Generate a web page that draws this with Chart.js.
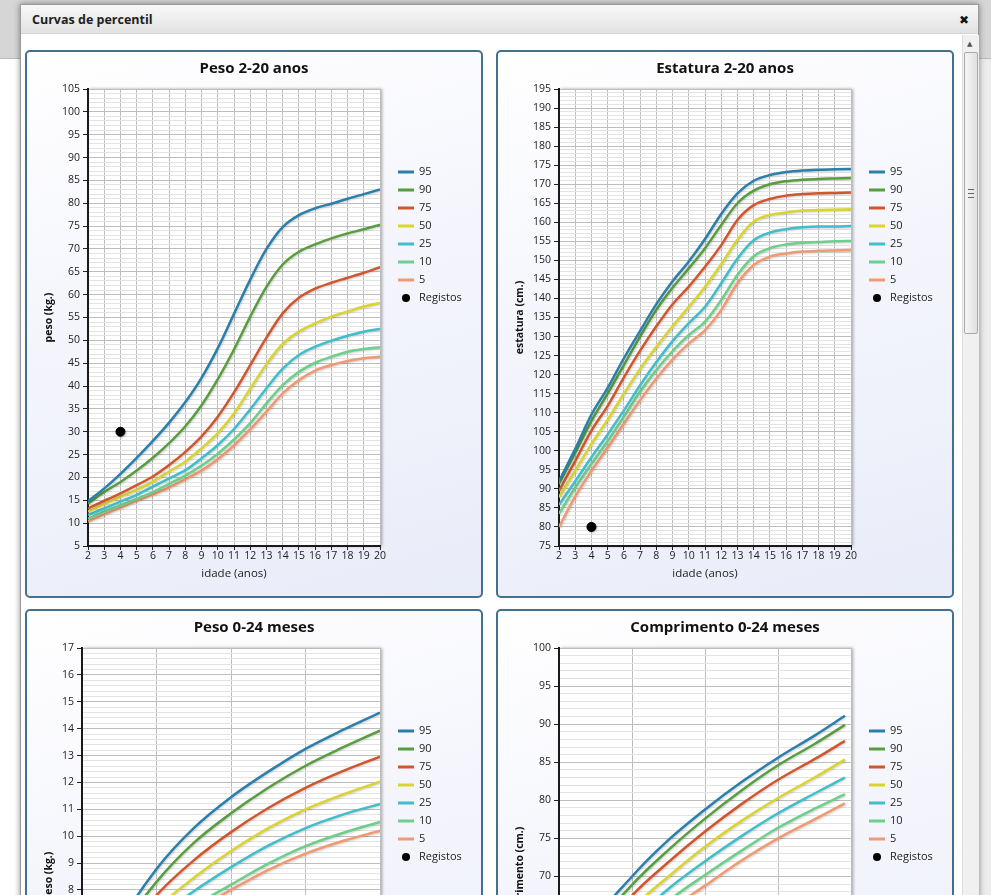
<!DOCTYPE html>
<html lang="pt">
<head>
<meta charset="UTF-8">
<title>Curvas de percentil</title>
<script src="https://cdn.jsdelivr.net/npm/chart.js"></script>
<style>
  html, body { margin: 0; padding: 0; }
  body { width: 991px; height: 895px; overflow: hidden; position: relative; background: #fff; font-family: "Open Sans", sans-serif; }
  .topo { position: absolute; left: 0; top: 0; width: 991px; height: 58px; background: #d6d6d6; border-bottom: 1px solid #bcbcbc; }
  .lado { position: absolute; right: 0; top: 59px; width: 12px; height: 836px; background: #ececec; }
  .dialogo { position: absolute; left: 20px; top: 4px; width: 957px; height: 900px; background: #fff; border: 1px solid #9a9a9a; box-shadow: 0 0 6px rgba(0,0,0,0.45); }
  .cabecalho { height: 28px; line-height: 30px; padding-left: 11px; background: linear-gradient(#f8f8f8, #e2e2e2); border-bottom: 1px solid #d4d4d4; font-weight: bold; font-size: 12.5px; color: #222; position: relative; }
  .fechar { position: absolute; right: 9px; top: 0; font-family: "DejaVu Sans", sans-serif; font-size: 12px; color: #111; }
  .scroll { position: absolute; left: 941px; top: 30px; width: 16px; height: 870px; background: #f0f0f0; border-left: 1px solid #dedede; }
  .seta { position: absolute; left: 4px; top: 5px; font-family: "DejaVu Sans", sans-serif; font-size: 7px; color: #555; }
  .barra { position: absolute; left: 1px; top: 17px; width: 12px; height: 280px; border: 1px solid #a9a9a9; border-radius: 2px; background: linear-gradient(to right, #f6f6f6, #e0e0e0); }
  .grip { position: absolute; left: 3px; top: 136px; width: 6px; height: 7px; border-top: 1px solid #666; border-bottom: 1px solid #666; }
  .grip::after { content: ""; position: absolute; left: 0; top: 3px; width: 6px; height: 1px; background: #666; }
  .painel { position: absolute; width: 454px; height: 544px; border: 2px solid #43708d; border-radius: 5px; background: linear-gradient(165deg, #ffffff 0%, #f4f5fc 45%, #e9ecf9 100%); }
  .painel canvas { position: absolute; left: 0; top: 0; }
</style>
</head>
<body>
<div class="topo"></div>
<div class="lado"></div>
<div class="dialogo">
  <div class="cabecalho">Curvas de percentil<span class="fechar">✖</span></div>
  <div class="scroll"><span class="seta">▲</span><div class="barra"><div class="grip"></div></div></div>
</div>
<div class="painel" style="left:25px; top:50px;"><canvas id="g1"></canvas></div>
<div class="painel" style="left:496px; top:50px;"><canvas id="g2"></canvas></div>
<div class="painel" style="left:25px; top:609px;"><canvas id="g3"></canvas></div>
<div class="painel" style="left:496px; top:609px;"><canvas id="g4"></canvas></div>

<script>
// percentis e idades
const percentis = ['95', '90', '75', '50', '25', '10', '5'];
const anos = [2, 3, 4, 5, 6, 7, 8, 9, 10, 11, 12, 13, 14, 15, 16, 17, 18, 19, 20];
const meses = [0, 3, 6, 9, 12, 15, 18, 21, 24];
const mesesComp = [0, 3, 6, 9, 12, 15, 18, 21, 23.5];

// Peso 2-20 anos (kg)
const pesoAnos95 = [14.8, 17.6, 20.8, 24.3, 28.0, 32.0, 36.5, 41.8, 48.3, 55.8, 63.3, 70.0, 74.8, 77.4, 78.9, 79.9, 81.0, 82.0, 83.0];
const pesoAnos90 = [14.3, 16.8, 19.0, 21.5, 24.3, 27.5, 31.2, 35.8, 41.5, 48.0, 55.2, 61.7, 66.6, 69.4, 71.0, 72.3, 73.4, 74.3, 75.3];
const pesoAnos75 = [13.2, 14.9, 16.5, 18.3, 20.2, 22.7, 25.6, 29.0, 33.3, 38.6, 44.6, 50.6, 55.9, 59.3, 61.3, 62.6, 63.7, 64.8, 66.0];
const pesoAnos50 = [12.5, 14.2, 15.8, 17.3, 19.1, 21.3, 23.5, 26.4, 29.7, 34.0, 39.4, 44.8, 49.2, 51.9, 53.7, 55.2, 56.3, 57.4, 58.2];
const pesoAnos25 = [11.8, 13.2, 14.7, 16.2, 18.0, 19.8, 21.6, 24.2, 27.1, 30.6, 34.9, 39.5, 43.8, 46.8, 48.6, 49.9, 51.0, 51.9, 52.5];
const pesoAnos10 = [11.0, 12.5, 13.9, 15.3, 16.8, 18.6, 20.4, 22.6, 25.2, 28.3, 31.9, 36.2, 40.2, 43.1, 45.1, 46.4, 47.5, 48.1, 48.5];
const pesoAnos5 = [10.4, 11.9, 13.4, 14.9, 16.3, 17.8, 19.6, 21.5, 24.0, 27.0, 30.5, 34.4, 38.4, 41.3, 43.4, 44.6, 45.5, 46.1, 46.4];

// Estatura 2-20 anos (cm)
const estatura95 = [92.0, 100.5, 109.5, 116.5, 124.3, 131.5, 138.5, 144.5, 149.7, 155.6, 162.2, 167.6, 170.9, 172.4, 173.2, 173.6, 173.8, 173.9, 174.0];
const estatura90 = [91.3, 99.5, 107.8, 115.0, 122.5, 130.0, 137.0, 142.8, 147.9, 153.2, 159.3, 165.0, 168.3, 170.0, 170.8, 171.2, 171.4, 171.5, 171.6];
const estatura75 = [89.5, 97.3, 105.3, 111.8, 119.3, 126.3, 132.7, 138.5, 143.1, 148.3, 154.0, 160.6, 164.5, 166.1, 167.0, 167.4, 167.6, 167.7, 167.8];
const estatura50 = [87.8, 94.8, 101.8, 108.2, 115.0, 121.5, 127.3, 132.7, 137.8, 143.1, 149.0, 155.4, 160.2, 161.9, 162.6, 163.1, 163.2, 163.3, 163.4];
const estatura25 = [85.8, 92.0, 98.3, 104.3, 110.6, 117.2, 123.3, 128.8, 133.5, 137.8, 144.0, 150.5, 155.3, 157.3, 158.2, 158.7, 158.9, 158.9, 159.0];
const estatura10 = [83.5, 90.3, 96.5, 102.5, 108.9, 115.5, 121.2, 126.2, 130.4, 133.9, 139.6, 146.2, 151.1, 153.2, 154.2, 154.6, 154.8, 155.0, 155.1];
const estatura5 = [80.0, 88.0, 94.7, 100.8, 107.1, 113.3, 119.0, 124.0, 128.2, 131.7, 137.0, 144.0, 148.8, 151.0, 151.8, 152.3, 152.5, 152.6, 152.7];

// Peso 0-24 meses (kg)
const pesoMeses95 = [3.8, 6.7, 8.78, 10.3, 11.45, 12.4, 13.25, 13.95, 14.6];
const pesoMeses90 = [3.6, 6.4, 8.3, 9.75, 10.85, 11.8, 12.62, 13.3, 13.93];
const pesoMeses75 = [3.4, 6.0, 7.8, 9.1, 10.15, 11.05, 11.8, 12.42, 12.96];
const pesoMeses50 = [3.2, 5.7, 7.3, 8.45, 9.45, 10.3, 11.0, 11.55, 12.03];
const pesoMeses25 = [3.0, 5.4, 6.9, 7.95, 8.85, 9.65, 10.3, 10.8, 11.2];
const pesoMeses10 = [2.8, 5.1, 6.5, 7.4, 8.2, 8.98, 9.63, 10.12, 10.53];
const pesoMeses5 = [2.7, 4.9, 6.3, 7.2, 8.0, 8.75, 9.35, 9.82, 10.2];

// Comprimento 0-24 meses (cm)
const comp95 = [53.0, 64.0, 70.0, 74.8, 78.8, 82.4, 85.6, 88.5, 91.1];
const comp90 = [52.2, 63.0, 68.9, 73.5, 77.6, 81.3, 84.6, 87.4, 89.9];
const comp75 = [51.0, 61.6, 67.5, 71.9, 75.9, 79.5, 82.7, 85.4, 87.8];
const comp50 = [49.5, 60.0, 65.8, 70.0, 73.9, 77.3, 80.3, 83.0, 85.35];
const comp25 = [48.2, 58.5, 64.0, 68.4, 72.0, 75.3, 78.3, 80.9, 83.0];
const comp10 = [47.3, 57.2, 62.5, 66.8, 70.2, 73.4, 76.4, 78.9, 80.8];
const comp5 = [46.4, 56.2, 61.5, 65.5, 68.8, 72.1, 75.0, 77.5, 79.6];

// registos do utente
const registoIdade = [4];
const registoPeso = [30];
const registoEstatura = [80];

const cores = ['#2a7fab', '#589d3f', '#d0572d', '#d9d52e', '#3ebfc9', '#6dcf8b', '#ef9a72'];

Chart.defaults.font.family = "'Open Sans', sans-serif";
Chart.defaults.color = '#222';

// fundo branco da area do grafico com sombra
const fundoGrafico = {
  id: 'fundoGrafico',
  beforeDraw(chart) {
    const { ctx, chartArea: a } = chart;
    ctx.save();
    ctx.shadowColor = 'rgba(0,0,0,0.35)';
    ctx.shadowBlur = 3;
    ctx.shadowOffsetX = 2;
    ctx.fillStyle = '#fff';
    ctx.fillRect(a.left, a.top, a.width, a.height);
    ctx.restore();
  }
};

// sombra leve nas curvas
const sombraLinhas = {
  id: 'sombraLinhas',
  beforeDatasetDraw(chart) {
    const ctx = chart.ctx;
    ctx.save();
    ctx.shadowColor = 'rgba(0,0,0,0.18)';
    ctx.shadowBlur = 2;
    ctx.shadowOffsetX = 1;
    ctx.shadowOffsetY = 1;
  },
  afterDatasetDraw(chart) {
    chart.ctx.restore();
  }
};

// legenda a direita, abaixo do topo
const legendaLateral = {
  id: 'legendaLateral',
  afterDraw(chart) {
    const { ctx, chartArea } = chart;
    const x0 = chartArea.right + 18;
    const y0 = chartArea.top + 83;
    ctx.save();
    ctx.font = "11px 'Open Sans'";
    ctx.textBaseline = 'middle';
    chart.data.datasets.forEach((ds, i) => {
      const y = y0 + i * 18;
      if (ds.showLine === false) {
        ctx.fillStyle = '#000';
        ctx.beginPath();
        ctx.arc(x0 + 8, y, 4, 0, Math.PI * 2);
        ctx.fill();
      } else {
        ctx.strokeStyle = ds.borderColor;
        ctx.lineWidth = 3;
        ctx.beginPath();
        ctx.moveTo(x0, y);
        ctx.lineTo(x0 + 16, y);
        ctx.stroke();
      }
      ctx.fillStyle = '#222';
      ctx.fillText(ds.label, x0 + 21, y);
    });
    ctx.restore();
  }
};

function pontos(xs, ys) {
  return ys.map((y, i) => ({ x: xs[i], y: y }));
}

function criarGrafico(id, c) {
  const datasets = c.series.map((ys, i) => ({
    label: percentis[i],
    data: pontos(c.xs, ys),
    yAxisID: 'y',
    borderColor: cores[i],
    backgroundColor: cores[i],
    borderWidth: 2.5,
    pointRadius: 0,
    cubicInterpolationMode: 'monotone',
    fill: false
  }));
  datasets.push({
    label: 'Registos',
    data: pontos(c.regX, c.regY),
    yAxisID: 'y',
    showLine: false,
    pointRadius: 4.5,
    backgroundColor: '#000',
    borderColor: '#000'
  });
  const maior = v => Math.abs(v / c.yMaior - Math.round(v / c.yMaior)) < 1e-6;

  new Chart(document.getElementById(id), {
    type: 'line',
    data: { datasets },
    options: {
      responsive: true,
      maintainAspectRatio: false,
      animation: false,
      layout: { padding: 0 },
      plugins: {
        legend: { display: false },
        tooltip: { enabled: false },
        title: {
          display: true,
          text: c.titulo,
          color: '#111',
          font: { size: 15, weight: 'bold' },
          padding: { top: 8, bottom: 11 }
        }
      },
      scales: {
        x: {
          type: 'linear',
          min: c.xMin,
          max: c.xMax,
          ticks: { stepSize: c.xPasso, autoSkip: false, maxRotation: 0, padding: 0, font: { size: 10.5 }, color: '#222' },
          grid: { color: '#bdbdbd', tickLength: 4, tickColor: '#222' },
          border: { color: '#1a1a1a', width: 2 },
          title: { display: true, text: c.tituloX, font: { size: 11.5 }, color: '#222', padding: { top: 0, bottom: 15 } },
          afterFit: s => { s.height = 50; }
        },
        y: {
          min: c.yMin,
          max: c.yMax,
          ticks: {
            stepSize: c.yPasso,
            autoSkip: false,
            padding: 3,
            font: { size: 10.5 },
            color: '#222',
            callback: v => maior(v) ? Math.round(v) : ''
          },
          grid: {
            color: g => maior(g.tick.value) ? '#bdbdbd' : '#e3e3e3',
            tickColor: g => maior(g.tick.value) ? '#222' : 'rgba(0,0,0,0)',
            tickLength: 5
          },
          border: { color: '#1a1a1a', width: 2 },
          title: { display: true, text: c.tituloY, font: { size: 10.5, weight: 'bold' }, color: '#111', padding: { top: 16, bottom: 0 } },
          afterFit: s => { s.width = c.yLargura; }
        },
        // espaco reservado para a legenda lateral
        legendaEspaco: {
          type: 'linear',
          axis: 'y',
          position: 'right',
          ticks: { display: false },
          grid: { display: false, drawTicks: false },
          border: { display: false },
          afterFit: s => { s.width = 101; }
        }
      }
    },
    plugins: [fundoGrafico, sombraLinhas, legendaLateral]
  });
}

criarGrafico('g1', {
  titulo: 'Peso 2-20 anos', tituloX: 'idade (anos)', tituloY: 'peso (kg.)',
  xs: anos, series: [pesoAnos95, pesoAnos90, pesoAnos75, pesoAnos50, pesoAnos25, pesoAnos10, pesoAnos5],
  regX: registoIdade, regY: registoPeso,
  xMin: 2, xMax: 20, xPasso: 1, yMin: 5, yMax: 105, yPasso: 1, yMaior: 5, yLargura: 61
});

criarGrafico('g2', {
  titulo: 'Estatura 2-20 anos', tituloX: 'idade (anos)', tituloY: 'estatura (cm.)',
  xs: anos, series: [estatura95, estatura90, estatura75, estatura50, estatura25, estatura10, estatura5],
  regX: registoIdade, regY: registoEstatura,
  xMin: 2, xMax: 20, xPasso: 1, yMin: 75, yMax: 195, yPasso: 1, yMaior: 5, yLargura: 61
});

criarGrafico('g3', {
  titulo: 'Peso 0-24 meses', tituloX: 'idade (meses)', tituloY: 'peso (kg.)',
  xs: meses, series: [pesoMeses95, pesoMeses90, pesoMeses75, pesoMeses50, pesoMeses25, pesoMeses10, pesoMeses5],
  regX: [], regY: [],
  xMin: 0, xMax: 24, xPasso: 6, yMin: 0, yMax: 17, yPasso: 0.2, yMaior: 1, yLargura: 55
});

criarGrafico('g4', {
  titulo: 'Comprimento 0-24 meses', tituloX: 'idade (meses)', tituloY: 'comprimento (cm.)',
  xs: mesesComp, series: [comp95, comp90, comp75, comp50, comp25, comp10, comp5],
  regX: [], regY: [],
  xMin: 0, xMax: 24, xPasso: 6, yMin: 40, yMax: 100, yPasso: 1, yMaior: 5, yLargura: 61
});
</script>
</body>
</html>
